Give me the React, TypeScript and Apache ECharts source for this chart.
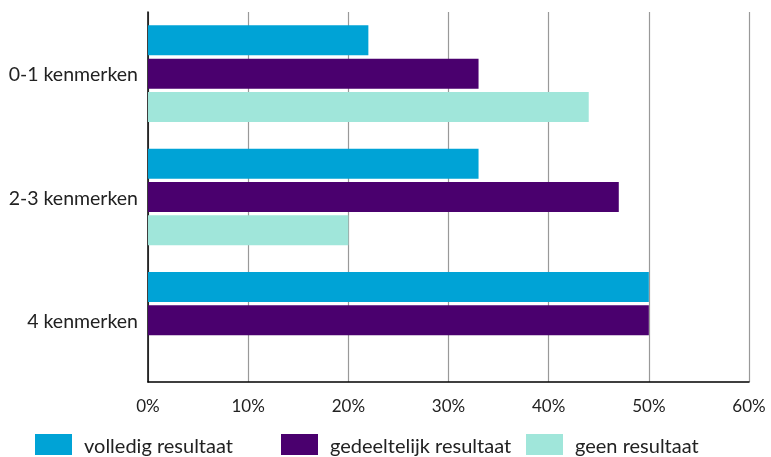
import React, { useEffect, useRef } from "react";
import * as echarts from "echarts";

const categories = ["0-1 kenmerken", "2-3 kenmerken", "4 kenmerken"];
const seriesNames = ["volledig resultaat", "gedeeltelijk resultaat", "geen resultaat"];
const volledig = [22, 33, 50];
const gedeeltelijk = [33, 47, 50];
const geen = [44, 20, 0];
const colors = ["#00A3D6", "#4A006E", "#A0E6DA"];
const xTicks = [0, 10, 20, 30, 40, 50, 60];

export default function App() {
  const ref = useRef<HTMLDivElement>(null);
  useEffect(() => {
    const chart = echarts.init(ref.current!, null, { renderer: "svg" });
    const font = "Lato";
    const values = [volledig, gedeeltelijk, geen];
    const legendLefts = [35, 281, 526];
    chart.setOption({
      animation: false,
      textStyle: { fontFamily: font },
      grid: { left: 148, right: 22, top: 12, bottom: 75 },
      legend: seriesNames.map((name, i) => ({
        top: 434,
        left: legendLefts[i],
        padding: 0,
        itemWidth: 37,
        itemHeight: 21,
        icon: "rect",
        textStyle: {
          fontSize: 20,
          lineHeight: 21,
          color: "#222",
          fontFamily: font,
          padding: [0, 0, 0, 7],
        },
        data: [name],
      })),
      xAxis: {
        type: "value",
        min: xTicks[0],
        max: xTicks[xTicks.length - 1],
        interval: 10,
        axisLine: { show: true, lineStyle: { color: "#000", width: 1.5 } },
        axisTick: { show: false },
        axisLabel: { formatter: "{value}%", fontSize: 17, color: "#222", margin: 15 },
        splitLine: { show: true, lineStyle: { color: "#999", width: 1.2 } },
      },
      yAxis: {
        type: "category",
        inverse: true,
        data: categories,
        axisLine: { show: true, lineStyle: { color: "#000", width: 1.5 } },
        axisTick: { show: false },
        axisLabel: { fontSize: 19.5, color: "#222", margin: 10 },
      },
      series: seriesNames.map((name, i) => ({
        name,
        type: "bar",
        data: values[i],
        itemStyle: { color: colors[i] },
        barWidth: 30,
        barGap: "11%",
      })),
    });
    return () => chart.dispose();
  }, []);
  return (
    <div
      ref={ref}
      style={{ position: "fixed", left: 0, top: 0, width: 771, height: 457 }}
    />
  );
}
